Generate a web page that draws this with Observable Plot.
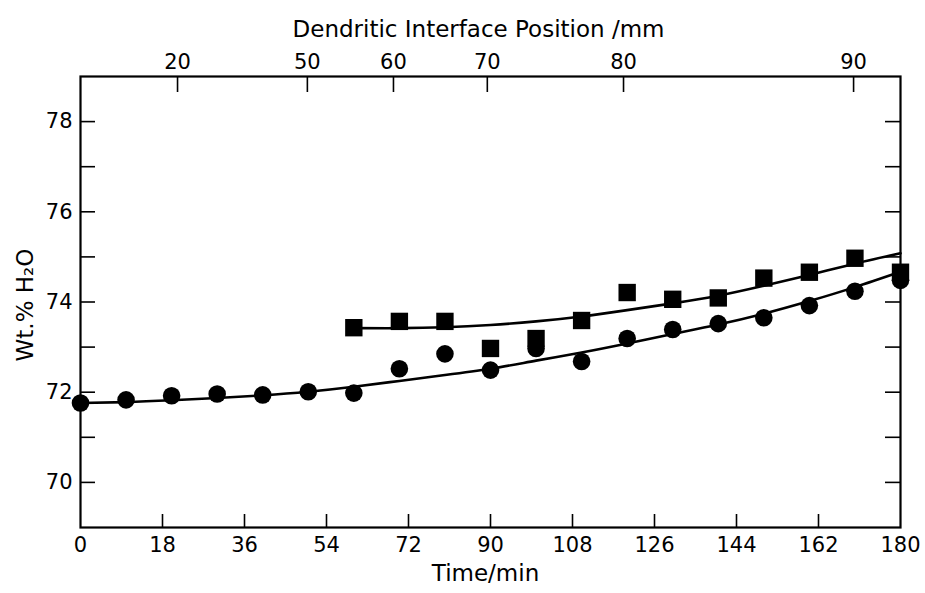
<!DOCTYPE html>
<html>
<head>
<meta charset="utf-8">
<script src="https://cdn.jsdelivr.net/npm/d3@7"></script>
<script src="https://cdn.jsdelivr.net/npm/@observablehq/plot@0.6"></script>
<style>
  html, body { margin: 0; padding: 0; background: #fff; }
  #chart svg { display: block; overflow: visible; }
</style>
</head>
<body>
<div id="chart"></div>
<script>
// ---- data ----
const circleTime = [0,10,20,30,40,50,60,70,80,90,100,110,120,130,140,150,160,170,180];
const circleWt   = [71.76,71.83,71.92,71.96,71.94,72.01,71.98,72.52,72.85,72.49,72.97,72.68,73.19,73.39,73.52,73.65,73.92,74.24,74.48];

const squareTime = [60,70,80,90,100,110,120,130,140,150,160,170,180];
const squareWt   = [73.43,73.57,73.57,72.97,73.19,73.59,74.21,74.06,74.09,74.53,74.66,74.97,74.66];

// fitted curves
const lowerCurveTime = [0,10,20,30,40,50,60,70,80,90,100,110,120,130,140,150,160,170,180];
const lowerCurveWt   = [71.76,71.78,71.82,71.87,71.93,72.01,72.12,72.25,72.38,72.52,72.70,72.88,73.08,73.29,73.50,73.74,74.02,74.33,74.67];
const upperCurveTime = [60,70,80,90,100,110,120,130,140,150,160,170,180];
const upperCurveWt   = [73.42,73.42,73.44,73.49,73.57,73.68,73.82,73.97,74.14,74.36,74.60,74.85,75.08];

// axes
const timeTicks      = [0,18,36,54,72,90,108,126,144,162,180];
const timeInnerTicks = [18,36,54,72,90,108,126,144,162];
const wtLabels       = [70,72,74,76,78];
const wtTicks        = [70,71,72,73,74,75,76,77,78];
const positionTime   = [21.3,49.8,68.7,89.3,119.2,169.7];   // where each position tick sits on the time axis
const positionMm     = ["20","50","60","70","80","90"];

// ---- tables built from the arrays ----
const circles = circleTime.map((t, i) => ({t, wt: circleWt[i]}));
const squares = squareTime.map((t, i) => ({t, wt: squareWt[i]}));
const lower = lowerCurveTime.map((t, i) => ({t, wt: lowerCurveWt[i]}));
const upper = upperCurveTime.map((t, i) => ({t, wt: upperCurveWt[i]}));
const topTicks = positionTime.map((t, i) => ({t, label: positionMm[i]}));

const W = 925, H = 593, ML = 80, MR = 25, MT = 76, MB = 66;
const plotW = W - ML - MR, plotH = H - MT - MB;

const chart = Plot.plot({
  width: W, height: H,
  marginLeft: ML, marginRight: MR, marginTop: MT, marginBottom: MB,
  x: {domain: [0, 180]},
  y: {domain: [69, 79]},
  style: {fontFamily: "DejaVu Sans", fontSize: "21px", color: "black", background: "white"},
  marks: [
    Plot.frame({stroke: "black", strokeWidth: 2.2}),
    // inward ticks
    Plot.tickY(wtTicks, {y: d => d, insetRight: plotW - 15, stroke: "black", strokeWidth: 1.6}),
    Plot.tickY(wtTicks, {y: d => d, insetLeft: plotW - 15, stroke: "black", strokeWidth: 1.6}),
    Plot.tickX(timeInnerTicks, {x: d => d, insetTop: plotH - 13, stroke: "black", strokeWidth: 1.6}),
    Plot.tickX(positionTime, {x: d => d, insetBottom: plotH - 16, stroke: "black", strokeWidth: 1.6}),
    // tick labels
    Plot.axisX(timeTicks, {anchor: "bottom", tickSize: 0, tickPadding: 10, label: null, tickFormat: d => String(d), fontSize: 21}),
    Plot.axisY(wtLabels, {anchor: "left", tickSize: 0, tickPadding: 8, label: null, tickFormat: d => String(d), fontSize: 21}),
    Plot.text(topTicks, {x: "t", text: "label", frameAnchor: "top", dy: -22, fontSize: 21}),
    // axis titles
    Plot.text(["Dendritic Interface Position /mm"], {text: d => d, frameAnchor: "top", textAnchor: "middle", dy: -56, dx: -12, fontSize: 23}),
    Plot.text(["Time/min"], {text: d => d, frameAnchor: "bottom", textAnchor: "middle", dy: 53, dx: -5, fontSize: 23}),
    Plot.text(["Wt.% H₂O"], {text: d => d, frameAnchor: "left", textAnchor: "middle", rotate: -90, dx: -55, dy: 3, fontSize: 23}),
    // fitted curves
    Plot.line(lower, {x: "t", y: "wt", curve: "natural", stroke: "black", strokeWidth: 2.6}),
    Plot.line(upper, {x: "t", y: "wt", curve: "natural", stroke: "black", strokeWidth: 2.6}),
    // data points
    Plot.dot(squares, {x: "t", y: "wt", symbol: "square", r: 9.8, fill: "black", stroke: "none"}),
    Plot.dot(circles, {x: "t", y: "wt", symbol: "circle", r: 8.8, fill: "black", stroke: "none"})
  ]
});

document.getElementById("chart").appendChild(chart);
</script>
</body>
</html>
